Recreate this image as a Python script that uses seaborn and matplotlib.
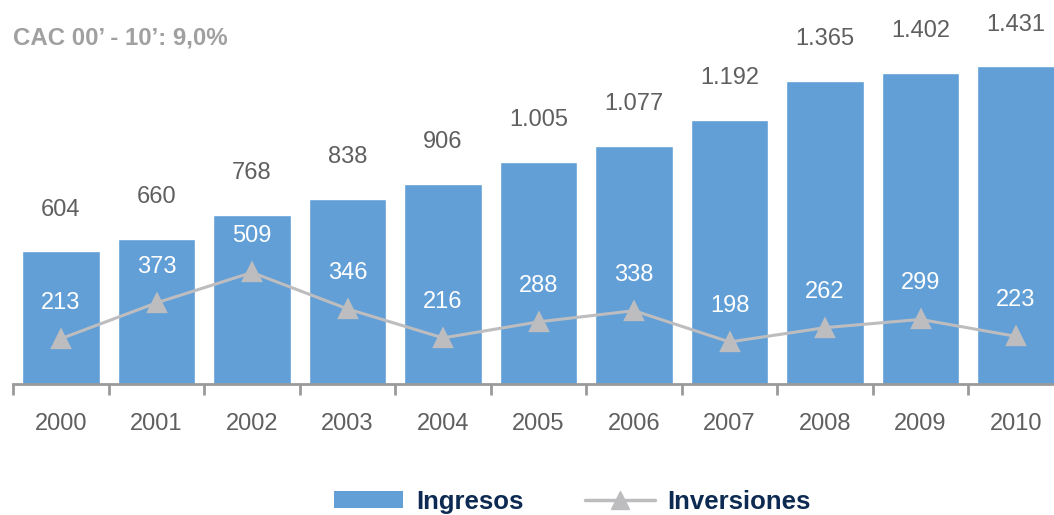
import matplotlib
matplotlib.use("Agg")
import matplotlib.pyplot as plt
import seaborn as sns
import numpy as np
from matplotlib.patches import Patch
from matplotlib.lines import Line2D

years = ["2000", "2001", "2002", "2003", "2004", "2005", "2006", "2007", "2008", "2009", "2010"]
ingresos = [604, 660, 768, 838, 906, 1005, 1077, 1192, 1365, 1402, 1431]
inversiones = [213, 373, 509, 346, 216, 288, 338, 198, 262, 299, 223]
title = "CAC 00’ - 10’: 9,0%"

BAR = "#619FD6"
LINE = "#BDBDC0"
TXT = "#5F5F5F"

sns.set_theme(style="white")
plt.rcParams["font.family"] = ["Liberation Sans", "DejaVu Sans"]

fig = plt.figure(figsize=(10.54, 5.15), dpi=100)
ax = fig.add_axes([0.01257, 0.2544, 0.9967, 0.7456])

sns.barplot(x=years, y=ingresos, color=BAR, width=0.81, saturation=1, ax=ax, zorder=2)
sns.pointplot(x=years, y=inversiones, color=LINE, markers="^", linestyles="-",
              errorbar=None, markersize=13.5, linewidth=2.2, ax=ax, zorder=3)

ax.set_ylim(10, 1728)
ax.set_xlim(-0.5, 10.5)

def fmt(v):
    return f"{v:,}".replace(",", ".")

for i, v in enumerate(ingresos):
    ax.annotate(fmt(v), (i, v), xytext=(0, 30), textcoords="offset points",
                ha="center", va="center", fontsize=17, color=TXT)
for i, v in enumerate(inversiones):
    ax.annotate(fmt(v), (i, v), xytext=(0, 26), textcoords="offset points",
                ha="center", va="center", fontsize=17, color="white", zorder=5)

for s in ["left", "right", "top"]:
    ax.spines[s].set_visible(False)
ax.spines["bottom"].set_color("#9A9A9A")
ax.spines["bottom"].set_linewidth(2)
ax.spines["bottom"].set_zorder(4)
ax.set_yticks([])
ax.set_xticks(np.arange(len(years)))
ax.set_xticklabels(years)
ax.tick_params(axis="x", which="major", length=0, pad=21, labelsize=17, labelcolor=TXT)
ax.set_xticks(np.arange(len(years) + 1) - 0.5, minor=True)
ax.tick_params(axis="x", which="minor", length=8, width=2, color="#9A9A9A", direction="out", bottom=True)
ax.set_xlabel("")
ax.set_ylabel("")

fig.text(0.0123, 0.926, title, fontsize=17.3, fontweight="bold", color="#A0A0A0", ha="left", va="center")

handles = [Patch(facecolor=BAR, edgecolor="none"),
           Line2D([0], [0], color=LINE, lw=2.5, marker="^", markersize=13.5)]
leg = fig.legend(handles, ["Ingresos", "Inversiones"], loc="center", bbox_to_anchor=(0.543, 0.026),
                 ncol=2, frameon=False, handlelength=2.7, handleheight=0.6, handletextpad=0.5,
                 columnspacing=2.4, borderpad=0.2, prop={"size": 18.5, "weight": "bold"})
for t in leg.get_texts():
    t.set_color("#0D2B52")

fig.savefig("out.png", dpi=100)
